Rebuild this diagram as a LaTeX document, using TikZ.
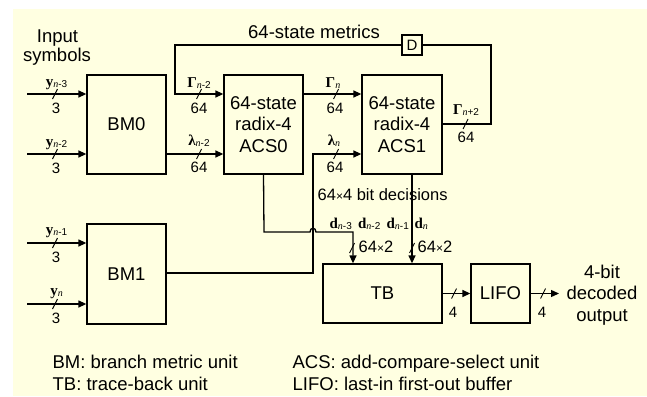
\documentclass[tikz,border=0pt]{standalone}
\usepackage{fontspec}
\setmainfont{Liberation Sans}
\newfontfamily\serifb{Liberation Serif}
\usetikzlibrary{arrows.meta}
\definecolor{bg}{RGB}{255,255,225}
\newcommand\fbig{\fontsize{18.5}{21.5}\selectfont}
\newcommand\fmid{\fontsize{15}{18}\selectfont}
\newcommand\fdec{\fontsize{16.5}{19}\selectfont}
\newcommand\subn{{\serifb\itshape n}}
\newcommand\smx{{\fontsize{12}{12}\selectfont×}}
\newcommand\mlab[2]{{\fontsize{15}{15}\selectfont\serifb\bfseries #1}{\fontsize{10}{10}\selectfont\raisebox{-1.5pt}{#2}}}
\begin{document}
\begin{tikzpicture}[x=1pt,y=-1pt,line width=1.3pt,
  >={Triangle[length=8pt,width=7pt]},
  blk/.style={draw,fill=bg,inner sep=0pt,font=\fbig,align=center},
  lbl/.style={inner sep=0pt,anchor=base,font=\fmid},
  lblw/.style={inner sep=0pt,anchor=base west,font=\fdec},
  leg/.style={inner sep=0pt,anchor=base west,font=\fbig},
  sym/.style={inner sep=0pt,anchor=base},
  symw/.style={inner sep=0pt,anchor=base west},
  bus/.pic={\draw[line width=0.9pt] (-2.5,5) -- (2.5,-5);}]
\useasboundingbox (0,0) rectangle (647,396);
\fill[bg] (13,9) rectangle (647,396);

% blocks
\node[blk,minimum width=79pt,minimum height=99pt] (BM0) at (126.5,124.5) {BM0};
\node[blk,minimum width=79pt,minimum height=100pt] (BM1) at (126.5,274) {BM1};
\node[blk,minimum width=79pt,minimum height=99pt] (ACS0) at (263.5,124.5) {64-state\\radix-4\\ACS0};
\node[blk,minimum width=80pt,minimum height=99pt] (ACS1) at (402,124.5) {64-state\\radix-4\\ACS1};
\node[blk,minimum width=119pt,minimum height=59pt] (TB) at (382.5,293.5) {TB};
\node[blk,minimum width=59pt,minimum height=59pt] (LIFO) at (500.5,293.5) {LIFO};
\node[blk,font=\fmid,minimum width=20pt,minimum height=20pt] (D) at (412,45) {D};

% coordinates
\coordinate (in0) at (27,94);
\coordinate (in1) at (27,154);
\coordinate (in2) at (27,243);
\coordinate (in3) at (27,304);
\coordinate (fbL) at (175,45);
\coordinate (fbR) at (491,45);
\coordinate (fbP) at (491,124);
\coordinate (j) at (313,273);
\coordinate (k1) at (264,232);
\coordinate (h1) at (310,232);
\coordinate (h2) at (316,232);
\coordinate (k2) at (353,232);
\coordinate (dv) at (412,0);
\coordinate (out) at (559,293.5);

% inputs
\draw[->] (in0) -- (BM0.west |- in0);
\draw[->] (in1) -- (BM0.west |- in1);
\draw[->] (in2) -- (BM1.west |- in2);
\draw[->] (in3) -- (BM1.west |- in3);
\pic at (55,94) {bus};
\pic at (55,154) {bus};
\pic at (55,243) {bus};
\pic at (55,304) {bus};
\node[sym] (ly0) at (56.5,86) {\mlab{y}{\subn-3}};
\node[sym] (ly1) at (56.5,146) {\mlab{y}{\subn-2}};
\node[sym] (ly2) at (56.5,234) {\mlab{y}{\subn-1}};
\node[sym] (ly3) at (56.5,295) {\mlab{y}{\subn}};
\node[lbl] (n0) at (56,113) {3};
\node[lbl] (n1) at (56,173) {3};
\node[lbl] (n2) at (56,262) {3};
\node[lbl] (n3) at (56,323) {3};

% input symbols
\node[inner sep=0pt,anchor=base,font=\fbig] (is1) at (57.5,42) {Input};
\node[inner sep=0pt,anchor=base,font=\fbig] (is2) at (57,62) {symbols};

% feedback
\draw[->] (D.west) -- (fbL) |- (ACS0.west |- in0);
\draw (ACS1.east |- fbP) -- (fbP) -- (fbR) -- (D.east);
\node[inner sep=0pt,anchor=base,font=\fbig] (fbt) at (314,39) {64-state metrics};

% BM0 -> ACS0, ACS0 -> ACS1
\draw[->] (BM0.east |- in1) -- (ACS0.west |- in1);
\draw[->] (ACS0.east |- in0) -- (ACS1.west |- in0);
% BM1 -> ACS1
\draw[->] (BM1.east |- j) -- (j) |- (ACS1.west |- in1);

\pic at (199,94) {bus};
\pic at (199,154) {bus};
\pic at (336,94) {bus};
\pic at (336,154) {bus};
\pic at (465.5,124) {bus};
\node[sym] (lg0) at (199,87) {\mlab{Γ}{\subn-2}};
\node[sym] (ll0) at (199,145) {\mlab{λ}{\subn-2}};
\node[sym] (lg1) at (333,87) {\mlab{Γ}{\subn}};
\node[sym] (ll1) at (334,145) {\mlab{λ}{\subn}};
\node[sym] (lg2) at (466,114) {\mlab{Γ}{\subn+2}};
\node[lbl] (m0) at (199,113) {64};
\node[lbl] (m1) at (199,172) {64};
\node[lbl] (m2) at (335,113) {64};
\node[lbl] (m3) at (335,172) {64};
\node[lbl] (m4) at (466,142) {64};

% decisions to TB
\draw[->] (ACS0.south) -- (k1) -- (h1) .. controls (310,227) and (316,227) .. (h2) -- (k2) -- (TB.north -| k2);
\draw[->] (ACS1.south -| dv) -- (TB.north -| dv);
\pic at (352,248) {bus};
\pic at (412,248) {bus};
\node[lblw] (dec) at (317,200) {64\smx 4 bit decisions};
\node[symw] (d0) at (329,228) {\mlab{d}{\subn-3}};
\node[symw] (d1) at (357.5,228) {\mlab{d}{\subn-2}};
\node[symw] (d2) at (386,228) {\mlab{d}{\subn-1}};
\node[symw] (d3) at (414,228) {\mlab{d}{\subn}};
\node[lblw] (w0) at (358,252) {64\smx 2};
\node[lblw] (w1) at (417,252) {64\smx 2};

% TB -> LIFO -> out
\draw[->] (TB.east) -- (LIFO.west);
\draw[->] (LIFO.east) -- (out);
\pic at (454,293.5) {bus};
\pic at (543,293.5) {bus};
\node[lbl] (f0) at (453,317) {4};
\node[lbl] (f1) at (542,317) {4};
\node[inner sep=0pt,align=center,font=\fbig] (outt) at (602,295) {4-bit\\decoded\\output};

% legend
\node[leg] (lg_a) at (52,368) {BM: branch metric unit};
\node[leg] (lg_b) at (52,390) {TB: trace-back unit};
\node[leg] (lg_c) at (292,368) {ACS: add-compare-select unit};
\node[leg] (lg_d) at (292,390) {LIFO: last-in first-out buffer};
\end{tikzpicture}
\end{document}
